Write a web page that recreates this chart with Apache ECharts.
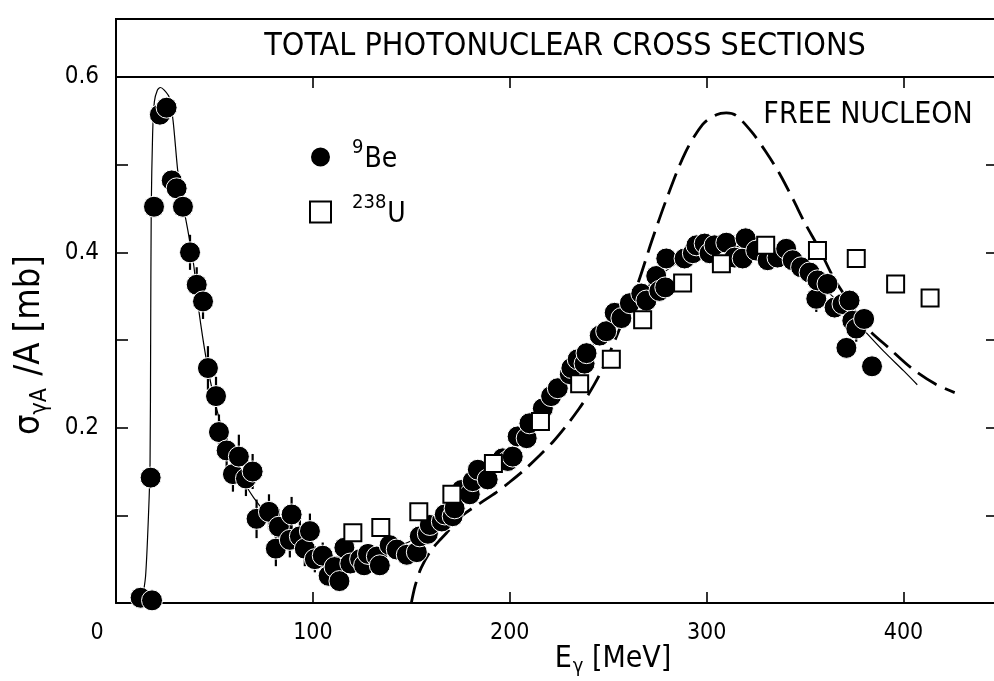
<!DOCTYPE html>
<html>
<head>
<meta charset="utf-8">
<script src="https://cdn.jsdelivr.net/npm/echarts@6/dist/echarts.min.js"></script>
<style>html,body{margin:0;padding:0;background:#fff;}#c{width:994px;height:681px;}</style>
</head>
<body>
<div id="c"></div>
<script>
// ---- data (E in MeV, sigma/A in mb, optional error half-width) ----
const beTitle = 'TOTAL PHOTONUCLEAR CROSS SECTIONS';
const freeLabel = 'FREE NUCLEON';
const xTicks = [0, 100, 200, 300, 400];
const xInnerTicks = [100, 200, 300, 400];
const yTicks = [0.2, 0.4, 0.6];

const bePoints = [
[12.5,0.006,0],[18.3,0.003,0],[17.6,0.143,0],[19.3,0.452,0],[22.3,0.557,0],[25.7,0.565,0],
[28.3,0.482,0],[30.8,0.473,0],[34.0,0.452,0],[37.6,0.400,0.02],[41.0,0.363,0.02],[44.2,0.344,0.02],
[46.7,0.268,0.025],[50.8,0.236,0.022],[52.3,0.195,0.02],[56.2,0.174,0.02],[59.4,0.147,0.02],
[62.4,0.167,0.025],[66.0,0.142,0.02],[69.4,0.150,0.02],[71.4,0.096,0.022],[77.7,0.104,0.02],
[81.2,0.062,0.02],[82.7,0.087,0.02],[88.3,0.072,0.02],[89.2,0.101,0.02],[93.4,0.076,0.02],
[95.9,0.062,0.02],[98.5,0.082,0.02],[101.0,0.050,0.015],[105.0,0.054,0.015],[108.0,0.031,0.01],
[111.0,0.041,0.01],[113.5,0.025,0.01],[116.0,0.063,0.01],[119.0,0.045,0.01],[124.0,0.050,0],
[126.0,0.043,0],[128.0,0.056,0],[132.5,0.053,0],[134.0,0.043,0],[139.0,0.066,0],[142.6,0.061,0],
[147.7,0.055,0],[152.8,0.058,0],[154.3,0.076,0],[158.4,0.079,0],[159.4,0.089,0],[165.5,0.093,0],
[167.0,0.101,0],[171.0,0.099,0],[172.0,0.108,0],[175.6,0.129,0],[179.7,0.124,0],[181.2,0.139,0],
[183.8,0.152,0],[188.8,0.141,0],[196.4,0.165,0],[199.0,0.162,0],[201.5,0.167,0],[204.0,0.190,0],
[208.6,0.188,0],[210.0,0.205,0],[216.8,0.222,0],[221.0,0.236,0],[224.4,0.245,0],[230.5,0.261,0],
[231.3,0.268,0],[234.5,0.278,0],[238.0,0.273,0],[239.0,0.285,0],[245.7,0.305,0],[249.0,0.310,0],
[253.3,0.331,0],[256.7,0.325,0],[261.0,0.342,0],[266.8,0.353,0],[269.4,0.345,0],[274.4,0.373,0],
[276.0,0.356,0],[279.0,0.360,0],[279.5,0.393,0],[288.8,0.393,0],[293.0,0.399,0],[294.8,0.408,0],
[299.0,0.410,0],[301.5,0.399,0],[304.0,0.408,0],[310.0,0.411,0],[314.2,0.394,0],[318.3,0.393,0],
[319.8,0.416,0],[325.2,0.402,0],[331.0,0.391,0],[336.0,0.394,0],[340.4,0.404,0],[343.7,0.391,0],
[348.0,0.383,0],[352.3,0.377,0],[355.7,0.347,0.015],[356.3,0.368,0],[361.4,0.364,0],[365.0,0.337,0.012],
[369.0,0.341,0],[371.0,0.291,0],[372.6,0.345,0],[374.0,0.322,0.015],[376.0,0.313,0.015],[380.0,0.324,0],
[384.0,0.270,0]
];

const uPoints = [
[120.3,0.080],[134.5,0.086],[153.8,0.104],[170.6,0.124],[191.7,0.159],[215.6,0.207],
[235.5,0.250],[251.6,0.278],[267.5,0.323],[287.8,0.365],[307.5,0.387],[330.0,0.408],
[356.3,0.402],[376.0,0.393],[396.0,0.364],[413.5,0.348]
];

const fitCurve = [
[13,0.0],[15,0.03],[16.5,0.1],[17.3,0.16],[17.6,0.3],[17.9,0.45],[18.6,0.535],[19.5,0.572],
[21,0.585],[22.5,0.588],[24.5,0.585],[27,0.577],[29,0.55],[31.5,0.49],[34,0.455],[36.5,0.425],
[39.5,0.385],[42,0.335],[46,0.276],[50,0.232],[55,0.19],[60,0.16],[65,0.138],[70,0.12],[80,0.092],
[90,0.073],[100,0.06],[110,0.053],[120,0.052],[130,0.055],[140,0.062],[150,0.071],[160,0.086],
[170,0.104],[180,0.126],[190,0.149],[200,0.172],[210,0.198],[220,0.228],[230,0.258],[240,0.287],
[250,0.314],[260,0.339],[270,0.361],[280,0.38],[290,0.395],[300,0.404],[310,0.408],[320,0.405],
[330,0.398],[340,0.387],[350,0.373],[360,0.358],[370,0.336],[380,0.311],[390,0.287],[400,0.265],[407,0.249]
];

const freeNucleon = [
[150,0.0],[152,0.02],[155,0.04],[160,0.06],[165,0.073],[170,0.085],[176,0.1],[185,0.114],[193,0.126],
[200,0.138],[207,0.151],[215,0.168],[222,0.184],[229,0.203],[235,0.221],[240,0.238],[246,0.262],
[252,0.292],[258,0.325],[265,0.364],[272,0.412],[280,0.463],[289,0.513],[298,0.546],[305,0.557],
[310,0.559],[315,0.556],[323,0.537],[330,0.515],[337,0.49],[344,0.46],[350,0.433],[357,0.405],
[364,0.373],[371,0.348],[381,0.315],[393,0.29],[404,0.268],[416,0.25],[426,0.24]
];

// ---- chart ----
const FONT = '"Liberation Sans Narrow", "DejaVu Sans Condensed", "Liberation Sans", sans-serif';
const chart = echarts.init(document.getElementById('c'), null, {renderer: 'canvas'});
const GL = 116, GT = 77, GB = 78, GR = -4;

const errData = bePoints.filter(p => p[2] > 0).map(p => [p[0], p[1] - p[2], p[1] + p[2]]);

const axisLineStyle = {color: '#000', width: 2};
const tickStyle = {color: '#000', width: 1.6};

const option = {
  backgroundColor: '#fff',
  animation: false,
  grid: {left: GL, top: GT, bottom: GB, right: GR, containLabel: false, outerBoundsMode: 'none'},
  legend: {
    orient: 'vertical', left: 304, top: 133, itemWidth: 21, itemHeight: 21, itemGap: 19,
    selectedMode: false,
    data: [{name: 'Be', icon: 'circle'}, {name: 'U', icon: 'rect'}],
    formatter: n => n === 'Be' ? '{pad|}{sup|9}{b|Be}' : '{pad|}{sup|238}{b|U}',
    textStyle: {
      color: '#000', fontFamily: FONT,
      rich: {
        pad: {width: 16},
        sup: {fontSize: 20, fontFamily: FONT, color: '#000', padding: [0, 1, 18, 0]},
        b: {fontSize: 28, fontFamily: FONT, color: '#000', padding: [6, 0, 0, 0]}
      }
    }
  },
  xAxis: [{
    type: 'value', min: 0, max: 448, interval: 100, position: 'bottom',
    axisLine: {onZero: false, lineStyle: axisLineStyle},
    axisTick: {inside: true, length: 11, lineStyle: tickStyle, customValues: xInnerTicks},
    splitLine: {show: false},
    axisLabel: {
      customValues: xTicks,
      margin: 19, color: '#000', fontSize: 23, fontFamily: FONT,
      formatter: v => v === 0 ? '{z|0}' : String(v),
      rich: {z: {fontSize: 23, fontFamily: FONT, color: '#000', padding: [0, 38, 0, 0]}}
    },
    name: 'E{sub|γ} [MeV]', nameLocation: 'middle', nameGap: 38, nameMoveOverlap: false,
    nameTextStyle: {
      fontSize: 30, fontFamily: FONT, color: '#000', padding: [0, 0, 0, 112],
      rich: {sub: {fontSize: 20, fontFamily: FONT, color: '#000', padding: [16, 0, 0, 1]}}
    }
  }, {
    type: 'value', min: 0, max: 448, interval: 100, position: 'top',
    axisLine: {onZero: false, lineStyle: axisLineStyle},
    axisTick: {inside: true, length: 11, lineStyle: tickStyle, customValues: xInnerTicks},
    axisLabel: {show: false}, splitLine: {show: false}
  }],
  yAxis: [{
    type: 'value', min: 0, max: 0.6, interval: 0.1, position: 'left',
    axisLine: {onZero: false, lineStyle: axisLineStyle},
    axisTick: {inside: true, length: 12, lineStyle: tickStyle},
    splitLine: {show: false},
    axisLabel: {
      margin: 17, color: '#000', fontSize: 24, fontFamily: FONT,
      formatter: v => yTicks.some(t => Math.abs(t - v) < 1e-6) ? v.toFixed(1) : ''
    },
    name: 'σ{sub|γA} /A [mb]', nameLocation: 'middle', nameGap: 64,
    nameTextStyle: {
      fontSize: 36, fontFamily: FONT, color: '#000', padding: [0, 10, 0, 0],
      rich: {sub: {fontSize: 23, fontFamily: FONT, color: '#000', padding: [22, 2, 0, 0]}}
    }
  }, {
    type: 'value', min: 0, max: 0.6, interval: 0.1, position: 'right',
    axisLine: {onZero: false, lineStyle: axisLineStyle},
    axisTick: {inside: true, length: 12, lineStyle: tickStyle},
    axisLabel: {show: false}, splitLine: {show: false}
  }],
  graphic: [
    {type: 'rect', z: 100, shape: {x: GL, y: 19, width: 994 - GL - GR, height: GT - 19},
     style: {fill: 'none', stroke: '#000', lineWidth: 2}},
    {type: 'text', z: 100, x: 565, y: 47,
     style: {text: beTitle, font: '32px ' + FONT, fill: '#000', textAlign: 'center', textVerticalAlign: 'middle'}},
    {type: 'text', z: 100, x: 868, y: 115,
     style: {text: freeLabel, font: '30px ' + FONT, fill: '#000', textAlign: 'center', textVerticalAlign: 'middle'}}
  ],
  series: [
    {
      name: 'fit', type: 'line', data: fitCurve, showSymbol: false, symbol: 'none', smooth: 0.25,
      lineStyle: {color: '#000', width: 1.2}, z: 2, silent: true
    },
    {
      name: 'free', type: 'line', data: freeNucleon, showSymbol: false, symbol: 'none', smooth: 0.3,
      lineStyle: {color: '#000', width: 2.8, type: [22, 9]}, z: 2, silent: true
    },
    {
      name: 'err', type: 'custom', data: errData, z: 3, silent: true,
      renderItem: (params, api) => {
        const p1 = api.coord([api.value(0), api.value(1)]);
        const p2 = api.coord([api.value(0), api.value(2)]);
        return {type: 'line', shape: {x1: p1[0], y1: p1[1], x2: p2[0], y2: p2[1]},
                style: {stroke: '#000', lineWidth: 2.2}};
      }
    },
    {
      name: 'Be', type: 'scatter', data: bePoints.map(p => [p[0], p[1]]), symbol: 'circle', symbolSize: 21,
      itemStyle: {color: '#000', borderColor: '#fff', borderWidth: 1, opacity: 1}, z: 4
    },
    {
      name: 'U', type: 'scatter', data: uPoints, symbol: 'rect', symbolSize: 17,
      itemStyle: {color: '#fff', borderColor: '#000', borderWidth: 2, opacity: 1}, z: 5
    }
  ]
};
chart.setOption(option);
</script>
</body>
</html>
